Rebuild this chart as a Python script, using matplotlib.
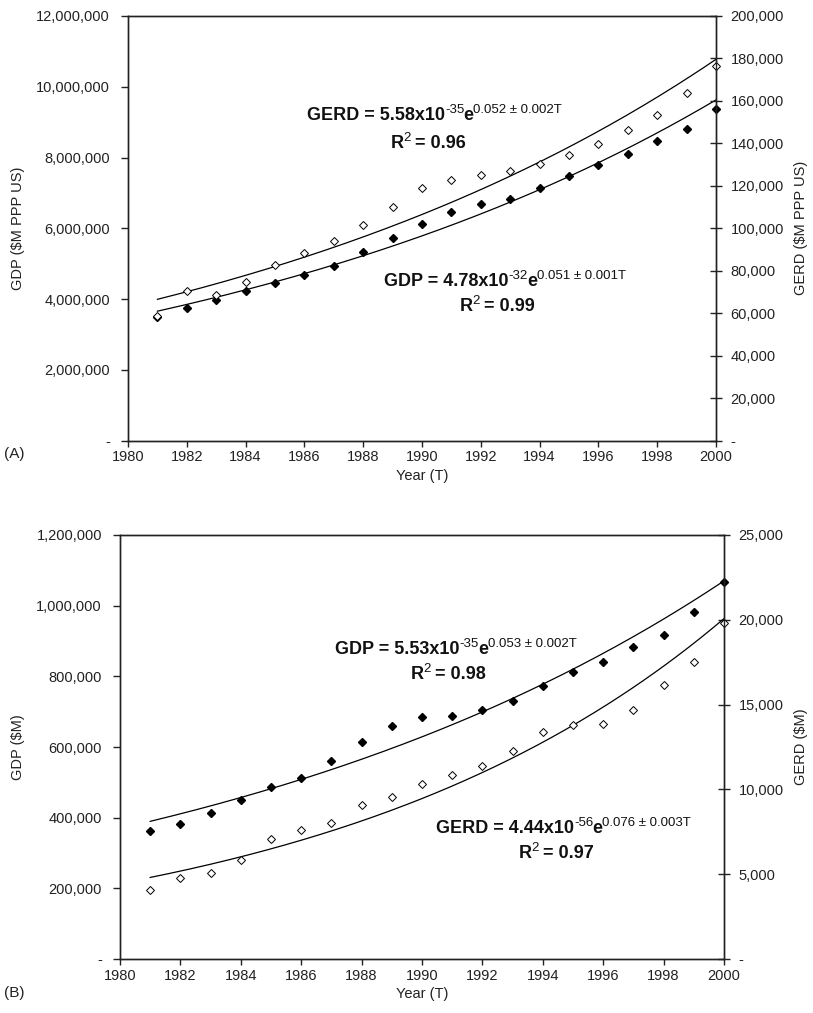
import numpy as np
import matplotlib
matplotlib.use("Agg")
import matplotlib.pyplot as plt
from matplotlib.ticker import FuncFormatter, MultipleLocator

plt.rcParams['font.family'] = ['Liberation Sans', 'DejaVu Sans']

years = list(range(1981, 2001))

# Panel A (PPP US $M)
gdp_a = [3500000, 3745000, 3980000, 4220000, 4450000, 4690000, 4940000, 5340000,
         5730000, 6120000, 6450000, 6700000, 6830000, 7140000, 7480000, 7790000,
         8100000, 8480000, 8800000, 9360000]
gerd_a = [58600, 70400, 68500, 74700, 82900, 88200, 94200, 101600, 109900, 119000,
          122800, 125000, 126900, 130200, 134600, 139800, 146100, 153300, 163800, 176600]

# Panel B ($M)
gdp_b = [362000, 383000, 413000, 451000, 487000, 513000, 560000, 614000, 659000, 684000,
         689000, 704000, 730000, 773000, 813000, 840000, 883000, 918000, 982000, 1067000]
gerd_b = [4050, 4780, 5070, 5820, 7080, 7620, 8000, 9060, 9550, 10340,
          10830, 11400, 12250, 13370, 13800, 13860, 14680, 16140, 17490, 19810]

W, H = 813, 1013
fig = plt.figure(figsize=(W / 100, H / 100), dpi=100)
TXT = '#222222'


def fx(x):
    return x / W


def fy(y):
    return 1 - y / H


def fmt(v, pos):
    if abs(v) < 1e-9:
        return "-"
    return "{:,.0f}".format(v)


def expfit(x, y):
    x = np.asarray(x, float)
    b, a = np.polyfit(x, np.log(np.asarray(y, float)), 1)
    xs = np.linspace(x.min(), x.max(), 200)
    return xs, np.exp(a + b * xs)


def make_panel(px_l, px_r, px_t, px_b, gdp, gerd, lmax, lstep, rmax, rstep, llabel, rlabel):
    ax = fig.add_axes([fx(px_l), fy(px_b), (px_r - px_l) / W, (px_b - px_t) / H])
    ax2 = ax.twinx()
    ax.set_xlim(1980, 2000)
    ax.set_ylim(0, lmax)
    ax2.set_ylim(0, rmax)
    ax.xaxis.set_major_locator(MultipleLocator(2))
    ax.yaxis.set_major_locator(MultipleLocator(lstep))
    ax2.yaxis.set_major_locator(MultipleLocator(rstep))
    ax.yaxis.set_major_formatter(FuncFormatter(fmt))
    ax2.yaxis.set_major_formatter(FuncFormatter(fmt))
    for a in (ax, ax2):
        for s in a.spines.values():
            s.set_linewidth(1.0)
            s.set_color(TXT)
    ax.tick_params(axis='y', direction='out', length=5, width=1.0, labelsize=10.5,
                   colors=TXT, pad=8)
    ax.tick_params(axis='x', direction='out', length=4, width=1.0, labelsize=10.5,
                   colors=TXT, pad=3)
    ax2.tick_params(axis='y', direction='inout', length=9, width=1.0, labelsize=10.5,
                    colors=TXT, pad=6)
    ax.set_ylabel(llabel, fontsize=10.5, color=TXT)
    ax2.set_ylabel(rlabel, fontsize=10.5, color=TXT)
    ax.set_xlabel("Year (T)", fontsize=10.5, color=TXT, labelpad=3)
    wfrac = (px_r - px_l) / W
    ax.yaxis.set_label_coords((fx(25) - fx(px_l)) / wfrac, 0.5)
    ax2.yaxis.set_label_coords((fx(794) - fx(px_l)) / wfrac, 0.5)

    xs, ys = expfit(years, gdp)
    ax.plot(xs, ys, color='black', lw=0.9)
    ax.plot(years, gdp, linestyle='none', marker='D', ms=3.6, mfc='black', mec='black',
            clip_on=False)
    xs, ys = expfit(years, gerd)
    ax2.plot(xs, ys, color='black', lw=0.9)
    ax2.plot(years, gerd, linestyle='none', marker='D', ms=3.6, mfc='white', mec='black',
             mew=0.7, clip_on=False)
    return ax, ax2


axA, axA2 = make_panel(128, 716, 16, 440.7, gdp_a, gerd_a, 12000000, 2000000, 200000, 20000,
                       "GDP ($M PPP US)", "GERD ($M PPP US)")
axB, axB2 = make_panel(120, 724, 535, 959, gdp_b, gerd_b, 1200000, 200000, 25000, 5000,
                       "GDP ($M)", "GERD ($M)")

fig.text(fx(4), fy(454), "(A)", fontsize=11, va='center', ha='left', color=TXT)
fig.text(fx(4), fy(993), "(B)", fontsize=11, va='center', ha='left', color=TXT)

renderer = fig.canvas.get_renderer()
FS = 13
SFS = 9.5


def run(x, y, parts, center=False):
    """parts: list of (text, is_superscript, extra_gap). x,y in pixels (y = baseline)."""
    items = []
    cx = x
    for txt, sup, gap in parts:
        yy = y - (7 if sup else 0)
        t = fig.text(fx(cx), fy(yy), txt, fontsize=SFS if sup else FS,
                     fontweight='normal' if sup else 'bold', ha='left', va='baseline',
                     color='#111111')
        bb = t.get_window_extent(renderer)
        cx += bb.width + gap
        items.append(t)
    if center:
        total = cx - x
        for t in items:
            px, py = t.get_position()
            t.set_position((px - total / 2 / W, py))


def eq(x, y, name, coef, expo, rate):
    run(x, y, [(name + " = " + coef + "x10", False, 0), (expo, True, -1),
               ("e", False, 0), (rate, True, 0)])


def r2(x, y, val):
    run(x, y, [("R", False, 0), ("2", True, 4), ("= " + val, False, 0)], center=True)


eq(307, 120, "GERD", "5.58", "-35", "0.052 \u00b1 0.002T")
r2(428, 148, "0.96")
eq(384, 286, "GDP", "4.78", "-32", "0.051 \u00b1 0.001T")
r2(497, 311, "0.99")
eq(335, 654, "GDP", "5.53", "-35", "0.053 \u00b1 0.002T")
r2(448, 679, "0.98")
eq(436, 833, "GERD", "4.44", "-56", "0.076 \u00b1 0.003T")
r2(556, 858, "0.97")

fig.savefig("out.png", dpi=100)
